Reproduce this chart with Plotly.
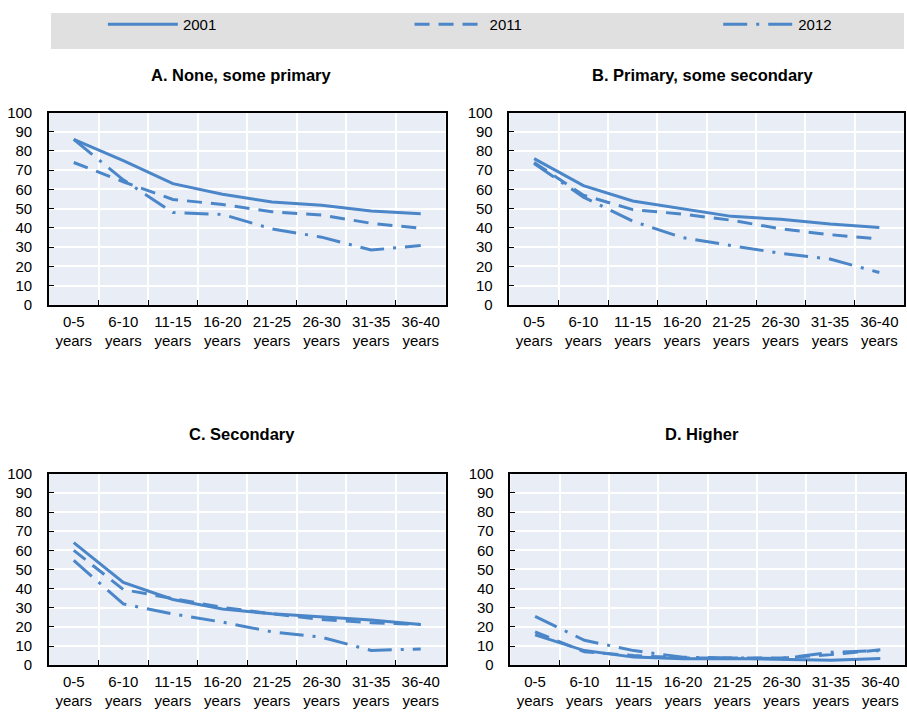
import plotly.graph_objects as go

categories = ["0-5<br>years", "6-10<br>years", "11-15<br>years", "16-20<br>years",
              "21-25<br>years", "26-30<br>years", "31-35<br>years", "36-40<br>years"]
years = ["2001", "2011", "2012"]
panel_titles = ["A. None, some primary", "B. Primary, some secondary", "C. Secondary", "D. Higher"]

# Panel A: None, some primary
a_2001 = [86, 75, 63, 57.5, 53.5, 51.8, 48.8, 47.3]
a_2011 = [74, 64, 54.8, 52.2, 48.4, 46.7, 42.4, 39.8]
a_2012 = [86, 65, 48, 47, 39.5, 35.2, 28.5, 30.8]

# Panel B: Primary, some secondary
b_2001 = [76, 62, 54, 50, 46, 44.5, 42, 40.2]
b_2011 = [74, 57, 49.5, 47.2, 44, 39.5, 36.5, 34.2]
b_2012 = [73.5, 56, 43.5, 35, 30.8, 26.8, 23.8, 16.8]

# Panel C: Secondary
c_2001 = [64, 43.2, 34.3, 29.3, 26.8, 25.2, 23.6, 21.3]
c_2011 = [60, 39.5, 34.8, 30.2, 26.8, 23.8, 22.2, 21.3]
c_2012 = [54.7, 32, 26.7, 22.5, 17.4, 14.6, 7.7, 8.4]

# Panel D: Higher
d_2001 = [15.8, 7.6, 4.2, 3.3, 3.5, 3.0, 2.6, 3.5]
d_2011 = [17.4, 7.0, 5.0, 3.8, 3.8, 3.8, 5.5, 8.0]
d_2012 = [25.5, 13.0, 7.6, 4.1, 3.8, 3.5, 6.7, 7.6]

panels = [
    (a_2001, a_2011, a_2012),
    (b_2001, b_2011, b_2012),
    (c_2001, c_2011, c_2012),
    (d_2001, d_2011, d_2012),
]

W, H = 907, 721
BLUE = "#4a86c8"
FONT = "Liberation Sans, Arial, sans-serif"
dashes = ["solid", "15px,9px", "24px,9px,3px,9px"]
legend_ids = ["legend", "legend2", "legend3"]
legend_x = [103, 410, 719]

# plot-area boxes in pixels: (left, right, top, bottom)
boxes = [(49, 446, 106, 303), (510, 905, 106, 303), (49, 446, 476, 672), (511, 906, 476, 672)]
title_pos = [(242, 68), (704, 68), (242, 435), (703, 435)]

fig = go.Figure()

for i, series in enumerate(panels):
    xa = "x" if i == 0 else f"x{i+1}"
    ya = "y" if i == 0 else f"y{i+1}"
    for j, vals in enumerate(series):
        fig.add_trace(go.Scatter(
            x=categories, y=vals, mode="lines",
            name=years[j], showlegend=(i == 0), legendgroup=years[j],
            legend=legend_ids[j],
            line=dict(color=BLUE, width=3, dash=dashes[j]),
            xaxis=xa, yaxis=ya, hoverinfo="skip",
        ))

layout = dict(
    width=W, height=H, margin=dict(l=0, r=0, t=0, b=0),
    paper_bgcolor="white", plot_bgcolor="#e9edf6",
    font=dict(family=FONT, size=15, color="#000000"),
    showlegend=True,
)
for lid, lx in zip(legend_ids, legend_x):
    layout[lid] = dict(orientation="h", x=lx / W, y=1 - 16 / H, xanchor="left", yanchor="middle",
                       bgcolor="rgba(0,0,0,0)", font=dict(size=15, color="#000000"),
                       itemwidth=70)

for i, (l, r, t, b) in enumerate(boxes):
    xk = "xaxis" if i == 0 else f"xaxis{i+1}"
    yk = "yaxis" if i == 0 else f"yaxis{i+1}"
    anchor_x = "y" if i == 0 else f"y{i+1}"
    anchor_y = "x" if i == 0 else f"x{i+1}"
    layout[xk] = dict(
        domain=[l / W, r / W], anchor=anchor_x, type="category",
        categoryorder="array", categoryarray=categories,
        range=[-0.5, 7.5], tickson="boundaries", ticks="inside", ticklen=5,
        tickcolor="black", showgrid=True, gridcolor="white", gridwidth=1.5,
        showline=True, linecolor="black", linewidth=1.5, mirror=True,
        tickfont=dict(size=15), ticklabelstandoff=2, fixedrange=True,
    )
    layout[yk] = dict(
        domain=[1 - b / H, 1 - t / H], anchor=anchor_y,
        range=[0, 100], tickmode="array", tickvals=list(range(0, 101, 10)),
        ticks="inside", ticklen=5, tickcolor="black",
        showgrid=True, gridcolor="white", gridwidth=1.5, zeroline=False,
        showline=True, linecolor="black", linewidth=1.5, mirror=True,
        tickfont=dict(size=15), ticklabelstandoff=12, fixedrange=True,
    )

fig.update_layout(**layout)

fig.add_shape(type="rect", xref="paper", yref="paper",
              x0=51 / W, x1=905 / W, y0=1 - 41 / H, y1=1 - 4 / H,
              fillcolor="#e0e0e0", line=dict(width=0), layer="below")

for (cx, cy), title in zip(title_pos, panel_titles):
    fig.add_annotation(text=f"<b>{title}</b>", x=cx / W, y=1 - cy / H, xref="paper", yref="paper",
                       xanchor="center", yanchor="middle", showarrow=False,
                       font=dict(family=FONT, size=16.5, color="#000000"))

fig.write_html("out.html")
